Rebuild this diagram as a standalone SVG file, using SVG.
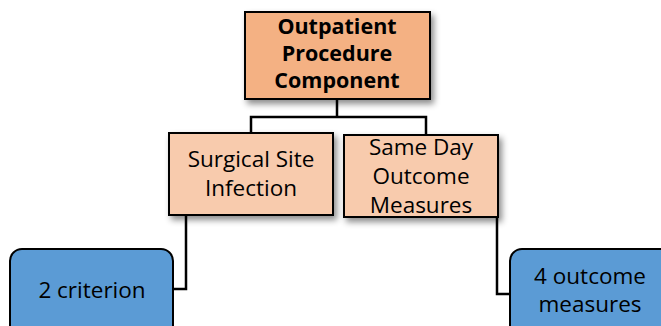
<svg xmlns="http://www.w3.org/2000/svg" width="661" height="326" viewBox="0 0 661 326">
<defs>
<filter id="sh" x="-10%" y="-10%" width="130%" height="140%">
<feDropShadow dx="3" dy="4" stdDeviation="3" flood-color="#000" flood-opacity="0.45"/>
</filter>
<style>
.box{stroke:#000;stroke-width:2}
.top{fill:#F4B183}
.mid{fill:#F8CBAD}
.leaf{fill:#5B9BD5}
.t{font-family:"Open Sans","Liberation Sans",sans-serif;fill:#000;text-anchor:middle}
.b{font-weight:bold;font-size:21.5px}
.m{font-size:22.5px}
.conn{fill:none;stroke:#000;stroke-width:2.5}
</style>
</defs>
<rect width="661" height="326" fill="#fff"/>
<g id="connectors">
<path class="conn" d="M337 99V117H251V133M251 117H426V135"/>
<path class="conn" d="M186 215V289H173"/>
<path class="conn" d="M497 217V294H510"/>
</g>
<g id="n-top">
<rect class="box top" x="245" y="12" width="185" height="87" filter="url(#sh)"/>
<text class="t b" x="337" y="34">Outpatient</text>
<text class="t b" x="337" y="61">Procedure</text>
<text class="t b" x="337" y="88">Component</text>
</g>
<g id="n-ssi">
<rect class="box mid" x="169" y="133" width="164" height="82" filter="url(#sh)"/>
<text class="t m" x="251" y="167">Surgical Site</text>
<text class="t m" x="251" y="196">Infection</text>
</g>
<g id="n-sdo">
<rect class="box mid" x="344" y="135" width="154" height="82" filter="url(#sh)"/>
<text class="t m" x="421" y="155">Same Day</text>
<text class="t m" x="421" y="184">Outcome</text>
<text class="t m" x="421" y="213">Measures</text>
</g>
<g id="n-crit">
<rect class="box leaf" x="10" y="249" width="163" height="90" rx="12"/>
<text class="t m" x="92" y="298">2 criterion</text>
</g>
<g id="n-out">
<rect class="box leaf" x="510" y="249" width="165" height="90" rx="12"/>
<text class="t m" x="590" y="284">4 outcome</text>
<text class="t m" x="590" y="312">measures</text>
</g>
</svg>
